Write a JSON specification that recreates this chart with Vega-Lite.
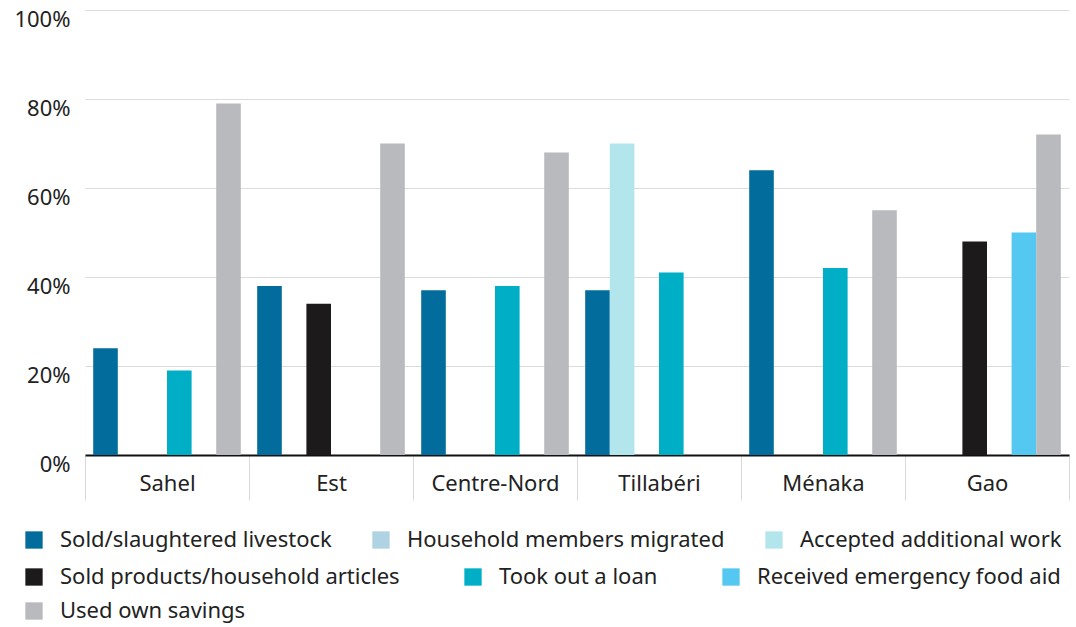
{
  "$schema": "https://vega.github.io/schema/vega-lite/v6.json",
  "width": 984,
  "height": 445,
  "autosize": {"type": "none"},
  "padding": {"left": 85, "top": 10, "right": 7, "bottom": 172},
  "background": "white",
  "config": {
    "font": "Noto Sans",
    "view": {"stroke": null},
    "legend": {
      "orient": "none",
      "direction": "horizontal",
      "columns": 3,
      "rowPadding": 13,
      "symbolType": "square",
      "symbolSize": 300,
      "symbolStrokeWidth": 0,
      "labelFontSize": 22,
      "labelFont": "Noto Sans",
      "labelColor": "#222222",
      "labelOffset": 15,
      "labelLimit": 500
    }
  },
  "data": {
    "values": [
      {"region": "Sahel", "strategy": "Sold/slaughtered livestock", "value": 24},
      {"region": "Sahel", "strategy": "Accepted additional work", "value": 0},
      {"region": "Sahel", "strategy": "Sold products/household articles", "value": 0},
      {"region": "Sahel", "strategy": "Took out a loan", "value": 19},
      {"region": "Sahel", "strategy": "Received emergency food aid", "value": 0},
      {"region": "Sahel", "strategy": "Used own savings", "value": 79},
      {"region": "Est", "strategy": "Sold/slaughtered livestock", "value": 38},
      {"region": "Est", "strategy": "Accepted additional work", "value": 0},
      {"region": "Est", "strategy": "Sold products/household articles", "value": 34},
      {"region": "Est", "strategy": "Took out a loan", "value": 0},
      {"region": "Est", "strategy": "Received emergency food aid", "value": 0},
      {"region": "Est", "strategy": "Used own savings", "value": 70},
      {"region": "Centre-Nord", "strategy": "Sold/slaughtered livestock", "value": 37},
      {"region": "Centre-Nord", "strategy": "Accepted additional work", "value": 0},
      {"region": "Centre-Nord", "strategy": "Sold products/household articles", "value": 0},
      {"region": "Centre-Nord", "strategy": "Took out a loan", "value": 38},
      {"region": "Centre-Nord", "strategy": "Received emergency food aid", "value": 0},
      {"region": "Centre-Nord", "strategy": "Used own savings", "value": 68},
      {"region": "Tillabéri", "strategy": "Sold/slaughtered livestock", "value": 37},
      {"region": "Tillabéri", "strategy": "Accepted additional work", "value": 70},
      {"region": "Tillabéri", "strategy": "Sold products/household articles", "value": 0},
      {"region": "Tillabéri", "strategy": "Took out a loan", "value": 41},
      {"region": "Tillabéri", "strategy": "Received emergency food aid", "value": 0},
      {"region": "Tillabéri", "strategy": "Used own savings", "value": 0},
      {"region": "Ménaka", "strategy": "Sold/slaughtered livestock", "value": 64},
      {"region": "Ménaka", "strategy": "Accepted additional work", "value": 0},
      {"region": "Ménaka", "strategy": "Sold products/household articles", "value": 0},
      {"region": "Ménaka", "strategy": "Took out a loan", "value": 42},
      {"region": "Ménaka", "strategy": "Received emergency food aid", "value": 0},
      {"region": "Ménaka", "strategy": "Used own savings", "value": 55},
      {"region": "Gao", "strategy": "Sold/slaughtered livestock", "value": 0},
      {"region": "Gao", "strategy": "Accepted additional work", "value": 0},
      {"region": "Gao", "strategy": "Sold products/household articles", "value": 48},
      {"region": "Gao", "strategy": "Took out a loan", "value": 0},
      {"region": "Gao", "strategy": "Received emergency food aid", "value": 50},
      {"region": "Gao", "strategy": "Used own savings", "value": 72}
    ]
  },
  "encoding": {
    "x": {
      "field": "region",
      "type": "nominal",
      "sort": ["Sahel", "Est", "Centre-Nord", "Tillabéri", "Ménaka", "Gao"],
      "scale": {"paddingInner": 0, "paddingOuter": 0},
      "axis": {
        "title": null,
        "labelAngle": 0,
        "labelFontSize": 22,
        "labelColor": "#222222",
        "labelFont": "Noto Sans",
        "domain": true,
        "domainColor": "#111111",
        "domainWidth": 2,
        "ticks": true,
        "tickBand": "extent",
        "tickSize": 45,
        "tickColor": "#d9d9d9",
        "tickWidth": 1,
        "labelPadding": -27,
        "grid": false
      }
    },
    "xOffset": {
      "field": "strategy",
      "type": "nominal",
      "scale": {
        "domain": ["Sold/slaughtered livestock", "Accepted additional work", "Sold products/household articles", "Took out a loan", "Received emergency food aid", "Used own savings"],
        "paddingInner": 0,
        "paddingOuter": 0.333
      }
    },
    "y": {
      "field": "value",
      "type": "quantitative",
      "scale": {"domain": [0, 100]},
      "axis": {
        "title": null,
        "values": [0, 20, 40, 60, 80, 100],
        "labelExpr": "datum.value + '%'",
        "labelFontSize": 22,
        "labelColor": "#222222",
        "labelFont": "Noto Sans",
        "labelPadding": 15,
        "labelOffset": 9,
        "domain": false,
        "ticks": false,
        "grid": true,
        "gridColor": "#dcdcdc",
        "gridWidth": 1
      }
    }
  },
  "layer": [
    {
      "transform": [{"filter": {"field": "strategy", "oneOf": ["Sold/slaughtered livestock", "Household members migrated", "Accepted additional work"]}}],
      "mark": {"type": "bar"},
      "encoding": {
        "color": {
          "field": "strategy",
          "type": "nominal",
          "scale": {
            "domain": ["Sold/slaughtered livestock", "Household members migrated", "Accepted additional work"],
            "range": ["#026c9c", "#b0d3e3", "#b3e6ec"]
          },
          "legend": {"title": null, "legendX": -62, "legendY": 519, "columnPadding": 38}
        }
      }
    },
    {
      "transform": [{"filter": {"field": "strategy", "oneOf": ["Sold products/household articles", "Took out a loan", "Received emergency food aid"]}}],
      "mark": {"type": "bar"},
      "encoding": {
        "color": {
          "field": "strategy",
          "type": "nominal",
          "scale": {
            "domain": ["Sold products/household articles", "Took out a loan", "Received emergency food aid"],
            "range": ["#1c1a1b", "#00aec5", "#55c8f2"]
          },
          "legend": {"title": null, "legendX": -62, "legendY": 556, "columnPadding": 62}
        }
      }
    },
    {
      "transform": [{"filter": {"field": "strategy", "oneOf": ["Used own savings"]}}],
      "mark": {"type": "bar"},
      "encoding": {
        "color": {
          "field": "strategy",
          "type": "nominal",
          "scale": {
            "domain": ["Used own savings"],
            "range": ["#b9babe"]
          },
          "legend": {"title": null, "legendX": -62, "legendY": 590}
        }
      }
    }
  ],
  "resolve": {"scale": {"color": "independent"}}
}
